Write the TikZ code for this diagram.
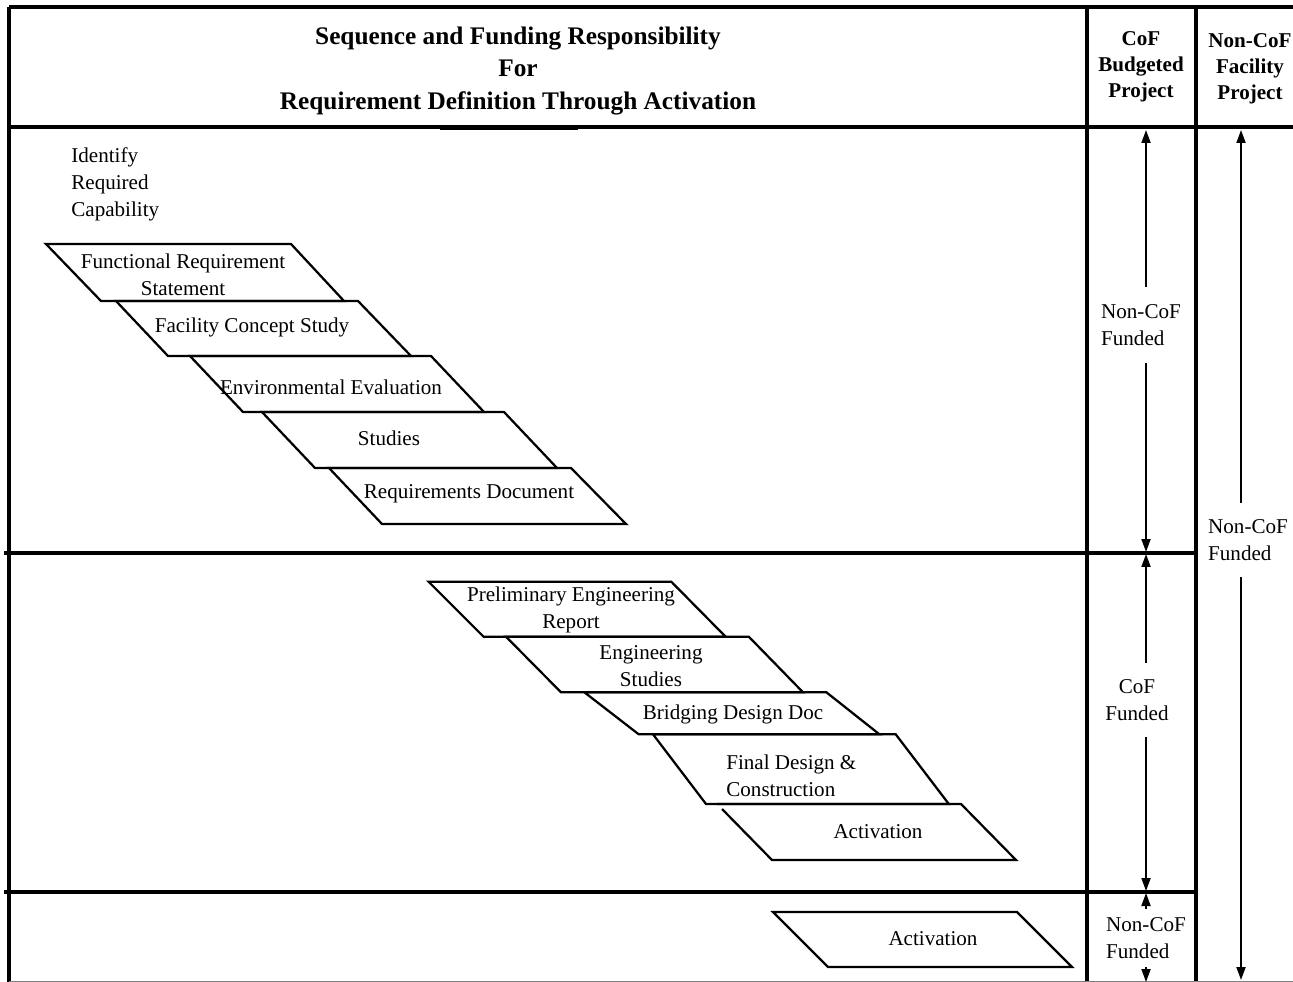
\documentclass[tikz,border=0pt]{standalone}
\usepackage{fontspec}
\setmainfont{Liberation Serif}
\usetikzlibrary{arrows.meta}
\begin{document}
\begin{tikzpicture}[x=0.02cm,y=-0.02cm,
  frame/.style={line width=0.075cm},
  para/.style={line width=0.045cm, line join=miter},
  body/.style={font=\fontsize{12}{15.4}\selectfont, inner sep=0pt},
  hdr/.style={font=\fontsize{12}{14.9}\selectfont\bfseries, align=center, inner sep=0pt},
  lbl/.style={body, inner ysep=0pt},
  fund/.style={line width=0.038cm, -{Triangle[length=0.26cm,width=0.18cm]}},
]
\useasboundingbox (0,0) rectangle (1293,982);

% frame
\draw[frame] (9,7) -- (1293,7);
\draw[frame] (9,7) -- (9,982);
\draw[frame] (9,127) -- (1293,127);
\draw[line width=0.04cm] (440,129) -- (578,129);
\draw[frame] (4,553) -- (1196,553);
\draw[frame] (4,892) -- (1196,892);
\draw[frame] (1087,7) -- (1087,982);
\draw[frame] (1196,7) -- (1196,982);
\draw[gray, line width=0.02cm] (9,981) -- (1293,981);

% headers
\node[font=\fontsize{14.4}{18.5}\selectfont\bfseries, align=center, inner sep=0pt] (title) at (518,71)
  {Sequence and Funding Responsibility\\For\\Requirement Definition Through Activation};
\node[hdr] (cofhdr) at (1141,67) {CoF\\Budgeted\\Project};
\node[hdr] (ncfhdr) at (1250,69) {Non-CoF\\Facility\\Project};

% first band
\node[body, align=left, anchor=west] (identify) at (71,184) {Identify\\Required\\Capability};

\draw[para] (46,244) -- (291,244) -- (344,301) -- (101,301) -- cycle;
\draw[para] (116,301) -- (358,301) -- (411,356) -- (168,356) -- cycle;
\draw[para] (190,356) -- (431,356) -- (484,412) -- (243,412) -- cycle;
\draw[para] (262,412) -- (504,412) -- (557,468) -- (315,468) -- cycle;
\draw[para] (329,468) -- (571,468) -- (626,524) -- (382,524) -- cycle;

\node[body, align=center] (frs) at (183,275) {Functional Requirement\\Statement};
\node[body] (fcs) at (252,327) {Facility Concept Study};
\node[body] (env) at (331,387) {Environmental Evaluation};
\node[body] (stu) at (389,438) {Studies};
\node[body] (req) at (469,494) {Requirements Document};

% second band
\draw[para] (428.6,581.7) -- (671.3,581.7) -- (725.6,636.7) -- (483.6,636.7) -- cycle;
\draw[para] (506,636.7) -- (748.8,636.7) -- (803,692.3) -- (561,692.3) -- cycle;
\draw[para] (584.4,692.3) -- (826.4,692.3) -- (879.4,734.3) -- (638.7,734.3) -- cycle;
\draw[para] (653,734.3) -- (895.7,734.3) -- (948.8,804) -- (706,804) -- cycle;
\draw[para] (722,809) -- (772,860) -- (1016,860) -- (961,804) -- (717,804);

\node[body, align=center] (per) at (571,610) {Preliminary Engineering\\Report};
\node[body, align=center] (est) at (651,666) {Engineering\\Studies};
\node[body] (bdd) at (733,714) {Bridging Design Doc};
\node[body, align=left, anchor=west] (fdc) at (726,776) {Final Design \&\\Construction};
\node[body] (act1) at (878,832) {Activation};

% third band
\draw[para] (773,912) -- (1017,912) -- (1072,967) -- (828,967) -- cycle;
\node[body] (act2) at (933,939) {Activation};

% funding arrows
\coordinate (c1t) at (1146,130);
\coordinate (c1b) at (1146,552);
\coordinate (c2t) at (1146,554);
\coordinate (c2b) at (1146,891);
\coordinate (c3t) at (1146,893);
\coordinate (c3b) at (1146,982);
\coordinate (c4t) at (1241,130);
\coordinate (c4b) at (1241,980);

\node[lbl, align=left, minimum height=1.5cm] (l1) at (1141,325) {Non-CoF\\Funded};
\node[lbl, align=center, minimum height=1.48cm] (l2) at (1137,700) {CoF\\Funded};
\node[lbl, align=left, minimum height=1.14cm] (l3) at (1146,938) {Non-CoF\\Funded};
\node[lbl, align=left, minimum height=1.46cm] (l4) at (1248,540) {Non-CoF\\Funded};

\draw[fund] (l1.north -| c1t) -- (c1t);
\draw[fund] (l1.south -| c1t) -- (c1b);
\draw[fund] (l2.north -| c2t) -- (c2t);
\draw[fund] (l2.south -| c2t) -- (c2b);
\draw[fund] (l3.north -| c3t) -- (c3t);
\draw[fund] (l3.south -| c3t) -- (c3b);
\draw[fund] (l4.north -| c4t) -- (c4t);
\draw[fund] (l4.south -| c4t) -- (c4b);
\end{tikzpicture}
\end{document}
